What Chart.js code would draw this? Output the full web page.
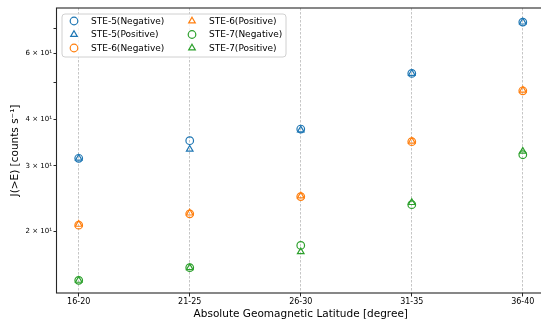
<!DOCTYPE html>
<html>
<head>
<meta charset="utf-8">
<script src="https://cdn.jsdelivr.net/npm/chart.js@4/dist/chart.umd.min.js"></script>
<style>
  html, body { margin: 0; padding: 0; background: #fff; overflow: hidden; width: 541px; height: 321px; }
  #wrap { width: 550px; height: 321px; position: relative; }
  canvas { display: block; width: 550px; height: 321px; }
</style>
</head>
<body>
<div id="wrap"><canvas id="c" width="550" height="321"></canvas></div>
<script>
// Latitude bins
const categories = ['16-20', '21-25', '26-30', '31-35', '36-40'];

// Count rates J(>E) per bin
const ste5Neg = [31.4, 35.0, 37.6, 53.0, 72.7];
const ste5Pos = [31.4, 33.2, 37.4, 53.0, 72.7];
const ste6Neg = [20.8, 22.3, 24.8, 34.8, 47.6];
const ste6Pos = [20.9, 22.4, 24.9, 34.9, 47.8];
const ste7Neg = [14.8, 16.0, 18.35, 23.6, 32.1];
const ste7Pos = [14.8, 16.0, 17.65, 23.9, 32.8];

// Log-axis ticks and their labels (unlabelled ticks get '')
const yTicks = [20, 30, 40, 50, 60, 70];
const yTickLabels = ['2 × 10¹', '3 × 10¹', '4 × 10¹', '', '6 × 10¹', ''];

const BLUE = '#1f77b4', ORANGE = '#ff7f0e', GREEN = '#2ca02c';
const FONT = "'DejaVu Sans', sans-serif";

function series(label, values, color, style) {
  return {
    label,
    data: values.map((v, i) => ({ x: i, y: v })),
    pointStyle: style,
    borderColor: color,
    backgroundColor: 'rgba(0,0,0,0)',
    pointBorderWidth: 1.2,
    pointRadius: 3.8,
    pointHoverRadius: 3.8,
    showLine: false
  };
}

// Axes frame drawn over the plot
const framePlugin = {
  id: 'frame',
  afterDatasetsDraw(chart) {
    const { ctx, chartArea: a } = chart;
    ctx.save();
    ctx.strokeStyle = '#262626';
    ctx.lineWidth = 1.1;
    ctx.strokeRect(a.left, a.top, a.right - a.left, a.bottom - a.top);
    ctx.restore();
  }
};

// Two-column legend in the upper-left of the plot
const legendPlugin = {
  id: 'boxLegend',
  afterDraw(chart) {
    const { ctx, chartArea: a } = chart;
    const ds = chart.data.datasets;
    const x0 = a.left + 5.5, y0 = a.top + 6, w = 224, h = 43;
    ctx.save();
    ctx.beginPath();
    ctx.roundRect(x0, y0, w, h, 3);
    ctx.fillStyle = 'rgba(255,255,255,0.8)';
    ctx.fill();
    ctx.strokeStyle = '#d0d0d0';
    ctx.lineWidth = 1;
    ctx.stroke();
    ctx.font = '9px ' + FONT;
    ctx.textBaseline = 'middle';
    ds.forEach((d, i) => {
      const col = Math.floor(i / 3), row = i % 3;
      const mx = x0 + 12 + col * 118;
      const my = y0 + 7 + row * 13.5;
      ctx.fillStyle = 'rgba(0,0,0,0)';
      ctx.strokeStyle = d.borderColor;
      ctx.lineWidth = 1.2;
      Chart.helpers.drawPoint(ctx, {
        pointStyle: d.pointStyle, radius: 3.8, rotation: 0, borderWidth: 1.2
      }, mx, my);
      ctx.fillStyle = '#000';
      ctx.fillText(d.label, mx + 17, my + 0.5);
    });
    ctx.restore();
  }
};

new Chart(document.getElementById('c'), {
  type: 'scatter',
  data: {
    datasets: [
      series('STE-5(Negative)', ste5Neg, BLUE, 'circle'),
      series('STE-5(Positive)', ste5Pos, BLUE, 'triangle'),
      series('STE-6(Negative)', ste6Neg, ORANGE, 'circle'),
      series('STE-6(Positive)', ste6Pos, ORANGE, 'triangle'),
      series('STE-7(Negative)', ste7Neg, GREEN, 'circle'),
      series('STE-7(Positive)', ste7Pos, GREEN, 'triangle')
    ]
  },
  options: {
    responsive: false,
    animation: false,
    devicePixelRatio: 1,
    layout: { padding: { left: 0, top: 8, right: 2, bottom: 0 } },
    plugins: {
      legend: { display: false },
      tooltip: { enabled: false }
    },
    scales: {
      x: {
        type: 'linear',
        min: -0.2,
        max: categories.length - 1 + 0.2,
        afterBuildTicks(scale) {
          scale.ticks = categories.map((_, i) => ({ value: i }));
        },
        afterFit(scale) {
          scale.height = 28;
          scale.paddingLeft = 0;
          scale.paddingRight = 0;
        },
        border: { display: false, dash: [2.5, 1.5] },
        grid: {
          color: '#b8b8b8',
          lineWidth: 0.8,
          tickLength: 3.5,
          tickColor: '#262626',
          tickWidth: 1,
          tickBorderDash: []
        },
        ticks: {
          autoSkip: false,
          maxRotation: 0,
          padding: 1,
          color: '#000',
          font: { family: FONT, size: 8 },
          callback: (v) => categories[v] ?? ''
        },
        title: {
          display: true,
          text: 'Absolute Geomagnetic Latitude [degree]',
          color: '#000',
          font: { family: FONT, size: 10.5 },
          padding: { top: 0, bottom: 0.5 }
        }
      },
      y: {
        type: 'logarithmic',
        min: 13.69,
        max: 79.3,
        afterBuildTicks(scale) {
          scale.ticks = yTicks.map(v => ({ value: v }));
        },
        afterFit(scale) {
          scale.width = 56.5;
          scale.paddingTop = 0;
          scale.paddingBottom = 0;
        },
        border: { display: false },
        grid: {
          drawOnChartArea: false,
          tickLength: 3,
          tickColor: '#262626',
          tickWidth: 1
        },
        ticks: {
          autoSkip: false,
          padding: 1.5,
          color: '#000',
          font: { family: FONT, size: 7 },
          callback: (v) => {
            const i = yTicks.indexOf(Math.round(v));
            return i >= 0 ? yTickLabels[i] : '';
          }
        },
        title: {
          display: true,
          text: 'J(>E) [counts s⁻¹]',
          color: '#000',
          font: { family: FONT, size: 10.5 },
          padding: { top: 8.5, bottom: 0 }
        }
      }
    }
  },
  plugins: [framePlugin, legendPlugin]
});
</script>
</body>
</html>
